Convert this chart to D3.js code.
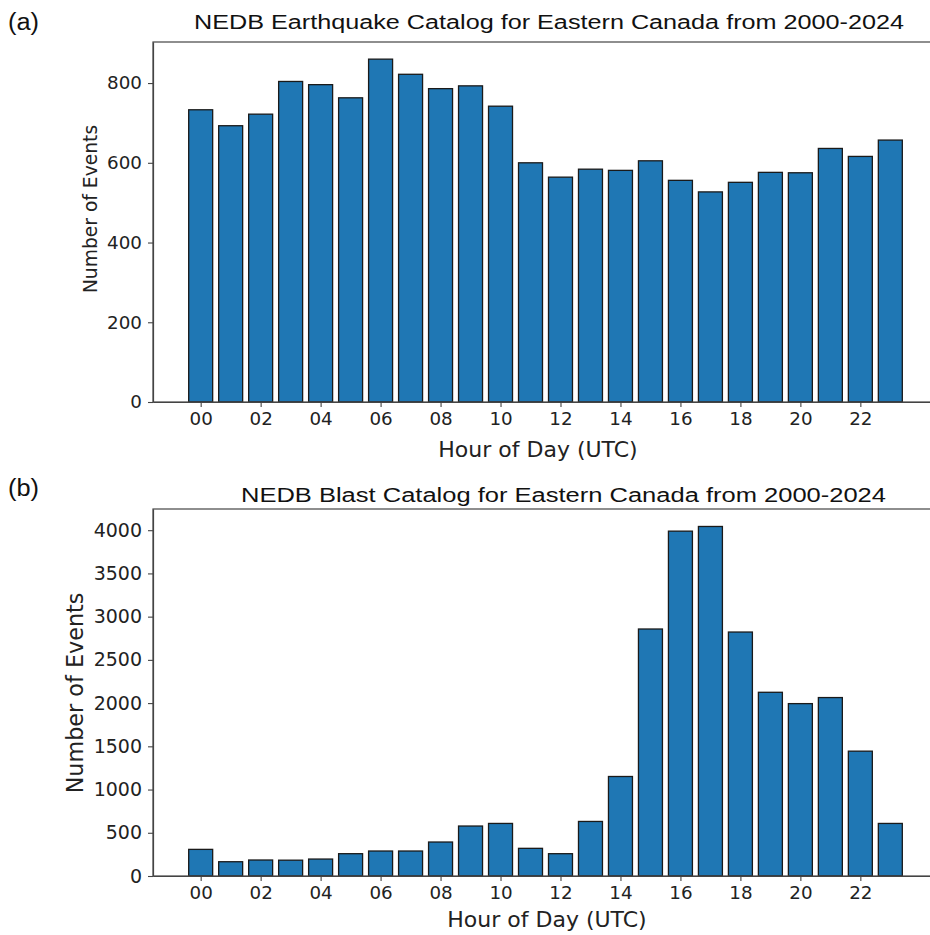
<!DOCTYPE html>
<html>
<head>
<meta charset="utf-8">
<script src="https://cdn.jsdelivr.net/npm/d3@7/dist/d3.min.js"></script>
<style>
  html, body { margin: 0; padding: 0; background: #fff; }
  svg { display: block; }
  .tick text { font-family: "DejaVu Sans", sans-serif; fill: #222; }
  .axis path, .axis line { stroke: #444; }
</style>
</head>
<body>
<div id="chart"></div>
<script>
// hour categories and tick labels
const hours = [0, 1, 2, 3, 4, 5, 6, 7, 8, 9, 10, 11, 12, 13, 14, 15, 16, 17, 18, 19, 20, 21, 22, 23];
const tickHours = [0, 2, 4, 6, 8, 10, 12, 14, 16, 18, 20, 22];
const tickLabels = ["00", "02", "04", "06", "08", "10", "12", "14", "16", "18", "20", "22"];

// (a) earthquakes per hour
const quakeCounts = [733, 693, 722, 804, 796, 763, 860, 822, 786, 793, 742, 600,
                     564, 584, 581, 605, 556, 527, 551, 576, 575, 636, 616, 657];
const quakeTicks = [0, 200, 400, 600, 800];

// (b) blasts per hour
const blastCounts = [308, 165, 185, 183, 196, 258, 289, 289, 393, 578, 608, 320,
                     258, 631, 1151, 2857, 3989, 4043, 2822, 2125, 1994, 2064, 1444, 608];
const blastTicks = [0, 500, 1000, 1500, 2000, 2500, 3000, 3500, 4000];

const W = 930, H = 935;
const svg = d3.select("#chart").append("svg")
  .attr("width", W)
  .attr("height", H);

function drawPanel(opts) {
  const x = d3.scaleLinear()
    .domain([-1.59, 24.59])
    .range([opts.left, opts.right]);
  const yMax = d3.max(opts.values) * 1.05;
  const y = d3.scaleLinear()
    .domain([0, yMax])
    .range([opts.bottom, opts.top]);

  const g = svg.append("g");

  // bars
  g.selectAll("rect.bar")
    .data(opts.values)
    .enter()
    .append("rect")
    .attr("class", "bar")
    .attr("x", (d, i) => x(hours[i] - 0.4))
    .attr("width", x(0.8) - x(0))
    .attr("y", d => y(d))
    .attr("height", d => y(0) - y(d))
    .attr("fill", "#1f77b4")
    .attr("stroke", "#1a1a1a")
    .attr("stroke-width", 1.3);

  // frame (top + right spine, right one falls outside the picture)
  g.append("rect")
    .attr("x", opts.left)
    .attr("y", opts.top)
    .attr("width", opts.right - opts.left)
    .attr("height", opts.bottom - opts.top)
    .attr("fill", "none")
    .attr("stroke", "#444")
    .attr("stroke-width", 1.2);

  // x axis
  const xAxis = g.append("g")
    .attr("class", "axis")
    .attr("transform", "translate(0," + opts.bottom + ")")
    .call(d3.axisBottom(x)
      .tickValues(tickHours)
      .tickFormat((d, i) => tickLabels[i])
      .tickSize(5)
      .tickPadding(5)
      .tickSizeOuter(0));
  xAxis.select(".domain").attr("stroke-width", 1.2);
  xAxis.selectAll(".tick line").attr("stroke-width", 1.1);
  xAxis.selectAll(".tick text").attr("font-size", "18.3px");

  // y axis
  const yAxis = g.append("g")
    .attr("class", "axis")
    .attr("transform", "translate(" + opts.left + ",0)")
    .call(d3.axisLeft(y)
      .tickValues(opts.ticks)
      .tickFormat(d3.format("d"))
      .tickSize(5)
      .tickPadding(6)
      .tickSizeOuter(0));
  yAxis.select(".domain").attr("stroke-width", 1.2);
  yAxis.selectAll(".tick line").attr("stroke-width", 1.1);
  yAxis.selectAll(".tick text").attr("font-size", opts.yTickSize);

  // axis labels
  g.append("text")
    .attr("x", opts.xLabelX)
    .attr("y", opts.xLabelY)
    .attr("text-anchor", "middle")
    .attr("font-family", "DejaVu Sans, sans-serif")
    .attr("font-size", "22px")
    .attr("fill", "#222")
    .text("Hour of Day (UTC)");

  g.append("text")
    .attr("transform", "translate(" + opts.yLabelX + "," + opts.yLabelY + ") rotate(-90)")
    .attr("text-anchor", "middle")
    .attr("font-family", "DejaVu Sans, sans-serif")
    .attr("font-size", opts.yLabelSize)
    .attr("fill", "#222")
    .text("Number of Events");

  // title and panel letter
  g.append("text")
    .attr("x", opts.titleX)
    .attr("y", opts.titleY)
    .attr("font-family", "Liberation Sans, Arial, sans-serif")
    .attr("font-size", "20px")
    .attr("fill", "#111")
    .attr("textLength", opts.titleLen)
    .attr("lengthAdjust", "spacingAndGlyphs")
    .text(opts.title);

  g.append("text")
    .attr("x", 8)
    .attr("y", opts.letterY)
    .attr("font-family", "Liberation Sans, Arial, sans-serif")
    .attr("font-size", "23px")
    .attr("fill", "#111")
    .attr("textLength", 31)
    .attr("lengthAdjust", "spacingAndGlyphs")
    .text(opts.letter);
}

drawPanel({
  values: quakeCounts,
  ticks: quakeTicks,
  left: 153, right: 938, top: 42, bottom: 402,
  yTickSize: "18.3px",
  xLabelX: 538, xLabelY: 457,
  yLabelX: 97, yLabelY: 209, yLabelSize: "18.7px",
  title: "NEDB Earthquake Catalog for Eastern Canada from 2000-2024",
  titleX: 194, titleY: 29, titleLen: 710,
  letter: "(a)", letterY: 30
});

drawPanel({
  values: blastCounts,
  ticks: blastTicks,
  left: 153, right: 938, top: 509, bottom: 876,
  yTickSize: "19px",
  xLabelX: 547, xLabelY: 927,
  yLabelX: 83, yLabelY: 693, yLabelSize: "22.3px",
  title: "NEDB Blast Catalog for Eastern Canada from 2000-2024",
  titleX: 241, titleY: 502, titleLen: 645,
  letter: "(b)", letterY: 496
});
</script>
</body>
</html>
